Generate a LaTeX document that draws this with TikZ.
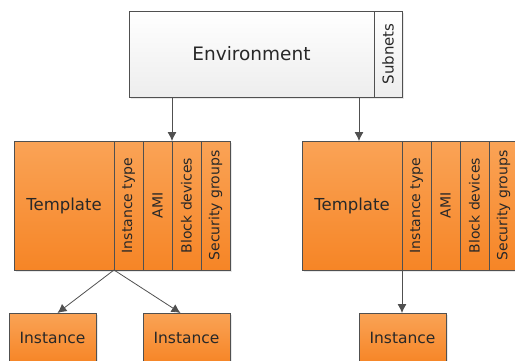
\documentclass[tikz,border=0pt]{standalone}
\usepackage{fontspec}
\setmainfont{DejaVu Sans}
\usetikzlibrary{arrows.meta,positioning,shadows}
\definecolor{bordo}{RGB}{80,80,80}
\definecolor{testo}{RGB}{40,40,40}
\definecolor{arancio1}{RGB}{250,163,86}
\definecolor{arancio2}{RGB}{246,133,38}
\tikzset{
  base/.style={draw=bordo, line width=0.8pt, inner sep=0pt, outer sep=0pt, text=testo,
    drop shadow={opacity=0.18, shadow xshift=1.5pt, shadow yshift=-1.5pt}},
  ambiente/.style={base, top color=white, bottom color=black!7},
  arancio/.style={base, top color=arancio1, bottom color=arancio2},
  modello/.style={arancio, anchor=north west, minimum width=100pt, minimum height=129pt,
    font=\fontsize{16.5}{19}\selectfont},
  colonna/.style={arancio, minimum width=29pt, minimum height=129pt,
    font=\fontsize{14}{16}\selectfont},
  istanza/.style={arancio, anchor=north west, minimum width=87pt, minimum height=50pt,
    font=\fontsize{15.5}{18}\selectfont},
  freccia/.style={draw=bordo, line width=0.8pt, -{Latex[length=9pt,width=9pt]}}
}
\begin{document}
\begin{tikzpicture}[x=1pt, y=-1pt]
  \useasboundingbox (0,0) rectangle (515,360);
  \clip (0,0) rectangle (515,360);

  % Ambiente
  \node[ambiente, anchor=north west, minimum width=245pt, minimum height=86pt,
    font=\fontsize{18.5}{22}\selectfont] (env) at (129,11) {Environment};
  \node[ambiente, minimum width=28pt, minimum height=86pt, right=0pt of env,
    font=\fontsize{15}{18}\selectfont] (subnets) {\rotatebox{90}{Subnets}};

  % Modello sinistro
  \node[modello] (ltpl) at (14,141) {Template};
  \node[colonna, right=0pt of ltpl] (ltype) {\rotatebox{90}{Instance type}};
  \node[colonna, right=0pt of ltype] (lami) {\rotatebox{90}{AMI}};
  \node[colonna, right=0pt of lami] (lblock) {\rotatebox{90}{Block devices}};
  \node[colonna, right=0pt of lblock] (lsec) {\rotatebox{90}{Security groups}};

  % Modello destro
  \node[modello] (rtpl) at (302,141) {Template};
  \node[colonna, right=0pt of rtpl] (rtype) {\rotatebox{90}{Instance type}};
  \node[colonna, right=0pt of rtype] (rami) {\rotatebox{90}{AMI}};
  \node[colonna, right=0pt of rami] (rblock) {\rotatebox{90}{Block devices}};
  \node[colonna, right=0pt of rblock] (rsec) {\rotatebox{90}{Security groups}};

  % Istanze
  \node[istanza] (lins1) at (9,313) {Instance};
  \node[istanza] (lins2) at (143,313) {Instance};
  \node[istanza] (rins) at (359,313) {Instance};

  % Collegamenti
  \draw[freccia] (env.south -| lami.north east) -- (lami.north east);
  \draw[freccia] ([xshift=-15pt]env.south east) -- ([xshift=-15pt]env.south east |- rtpl.north);
  \draw[freccia] (ltpl.south east) -- ([xshift=5pt]lins1.north);
  \draw[freccia] (ltpl.south east) -- ([xshift=-6pt]lins2.north);
  \draw[freccia] (rtpl.south east) -- (rtpl.south east |- rins.north);
\end{tikzpicture}
\end{document}
